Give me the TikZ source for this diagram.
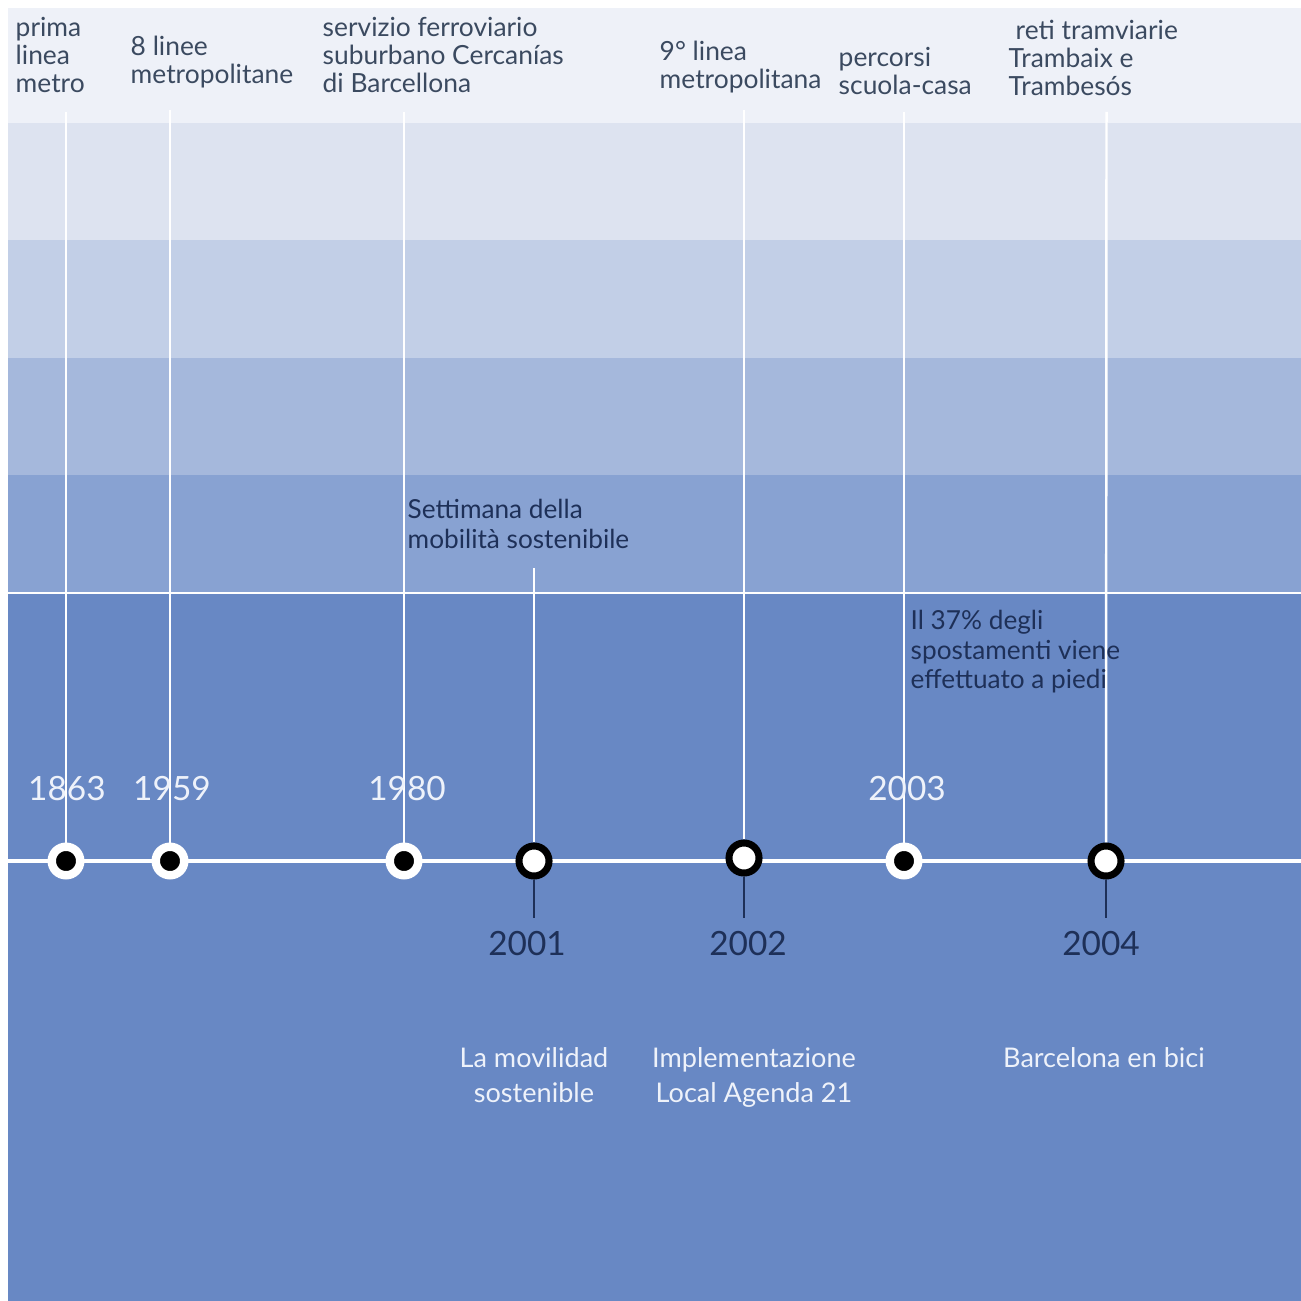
\documentclass[tikz,border=0pt]{standalone}
\usepackage{fontspec}
\setmainfont{Lato}
\usetikzlibrary{positioning}

\definecolor{bandone}{HTML}{EEF1F8}
\definecolor{bandtwo}{HTML}{DDE3F0}
\definecolor{bandthree}{HTML}{C2CFE7}
\definecolor{bandfour}{HTML}{A5B8DC}
\definecolor{bandfive}{HTML}{88A2D2}
\definecolor{bandbase}{HTML}{6888C4}
\definecolor{slatetext}{HTML}{3B4A60}
\definecolor{navytext}{HTML}{1E3058}
\definecolor{paletext}{HTML}{EEF2FA}

\tikzset{
    whitestop/.style={circle, draw=white, fill=black, line width=2.4pt, minimum size=0.285cm, inner sep=0pt},
    blackstop/.style={circle, draw=black, fill=white, line width=2pt, minimum size=0.30cm, inner sep=0pt},
    toplabel/.style={anchor=north west, inner sep=0pt, align=left, text=slatetext, font=\fontsize{7.5pt}{0.28cm}\selectfont},
    notelabel/.style={anchor=north west, inner sep=0pt, align=left, text=navytext, font=\fontsize{7.45pt}{0.29cm}\selectfont},
    lowlabel/.style={anchor=north, inner sep=0pt, align=center, text=paletext, font=\fontsize{7.7pt}{0.35cm}\selectfont},
    yearup/.style={inner sep=0pt, text=paletext, font=\fontsize{9.5pt}{11pt}\selectfont},
    yeardown/.style={inner sep=0pt, text=navytext, font=\fontsize{9.5pt}{11pt}\selectfont},
    guide/.style={white, line width=0.7pt},
    stem/.style={navytext, line width=0.45pt}
}

\begin{document}
\begin{tikzpicture}[x=0.01cm, y=-0.01cm]
    \pgfmathsetmacro{\axis}{861}
    \pgfmathsetmacro{\guidetop}{112}

    \useasboundingbox (0, 0) rectangle (1301, 1301);
    \fill [white] (0, 0) rectangle (1301, 1301);

    % shaded bands, light to dark
    \fill [bandone] (8, 8) rectangle (1301, 123);
    \fill [bandtwo] (8, 123) rectangle (1301, 240);
    \fill [bandthree] (8, 240) rectangle (1301, 358);
    \fill [bandfour] (8, 358) rectangle (1301, 475);
    \fill [bandfive] (8, 475) rectangle (1301, 593);
    \fill [bandbase] (8, 593) rectangle (1301, 1301);
    \draw [white, line width=0.7pt] (8, 593) -- (1301, 593);

    \coordinate (axisstart) at (0, \axis);
    \coordinate (axisend) at (1301, \axis);
    \draw [white, line width=1.4pt] (axisstart) -- (axisend);

    % milestones on the axis
    \node [whitestop] (d1863) at (66, \axis) {};
    \node [whitestop] (d1959) at (170, \axis) {};
    \node [whitestop] (d1980) at (404, \axis) {};
    \node [blackstop] (d2001) at (534, \axis) {};
    \node [blackstop] (d2002) at (744, 858) {};
    \node [whitestop] (d2003) at (904, \axis) {};
    \node [blackstop] (d2004) at (1106, \axis) {};

    \coordinate (t1863) at (66, \guidetop);
    \coordinate (t1959) at (170, 110);
    \coordinate (t1980) at (404, \guidetop);
    \coordinate (t2001) at (534, 568);
    \coordinate (t2002) at (744, 110);
    \coordinate (t2003) at (904, \guidetop);
    \coordinate (t2004) at (1106.5, \guidetop);
    \foreach \y in {1863,1959,1980,2001,2002,2003,2004}
        \draw [guide] (t\y) -- (d\y);

    \coordinate (s2001) at (534, 918);
    \coordinate (s2002) at (744, 918);
    \coordinate (s2004) at (1106, 918);
    \foreach \y in {2001,2002,2004}
        \draw [stem] (d\y) -- (s\y);

    % years
    \node [yearup] (y1863) at (67, 789) {1863};
    \node [yearup] (y1959) at (172, 789) {1959};
    \node [yearup] (y1980) at (407, 789) {1980};
    \node [yearup] (y2003) at (907, 789) {2003};
    \node [yeardown] (y2001) at (527, 944) {2001};
    \node [yeardown] (y2002) at (748, 944) {2002};
    \node [yeardown] (y2004) at (1101, 944) {2004};

    % what happened
    \node [toplabel] (l1863) at (15, 17) {prima\\linea\\metro};
    \node [toplabel] (l1959) at (130, 35) {8 linee\\metropolitane};
    \node [toplabel] (l1980) at (322, 17) {servizio ferroviario\\suburbano Cercanías\\di Barcellona};
    \node [toplabel] (l2002) at (659, 40) {9° linea\\metropolitana};
    \node [toplabel] (l2003) at (838, 47) {percorsi\\scuola-casa};
    \node [toplabel] (l2004) at (1008, 19) {\hspace*{0.07cm}reti tramviarie\\Trambaix e\\Trambesós};

    \node [notelabel] (n2001) at (407, 499) {Settimana della\\mobilità sostenibile};
    \node [notelabel] (n2003) at (910, 610) {Il 37\% degli\\spostamenti viene\\effettuato a piedi};

    \node [lowlabel] (p2001) at (534, 1047) {La movilidad\\sostenible};
    \node [lowlabel] (p2002) at (754, 1047) {Implementazione\\Local Agenda 21};
    \node [lowlabel] (p2004) at (1104, 1047) {Barcelona en bici};
\end{tikzpicture}
\end{document}
